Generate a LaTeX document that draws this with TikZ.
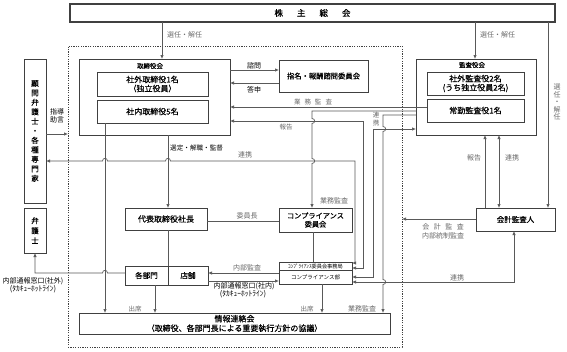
\documentclass[tikz,border=0pt]{standalone}
\usepackage{fontspec}
\setmainfont{Noto Sans CJK JP}
\newfontfamily\bxf{Noto Sans CJK JP}[FakeBold=0.5]
\usetikzlibrary{arrows.meta}
\definecolor{boxc}{gray}{0.25}
\definecolor{linec}{gray}{0.35}
\definecolor{labc}{gray}{0.42}
\newcommand{\fs}[2]{\fontsize{#1}{#2}\selectfont}
\begin{document}
\begin{tikzpicture}[x=1pt,y=-1pt,
  box/.style={draw=boxc,line width=0.8pt,inner sep=0pt,outer sep=0pt,align=center,font=\bxf\fs{8}{9}},
  conn/.style={draw=linec,line width=0.7pt},
  arr/.style={conn,-{Latex[length=4pt,width=3.4pt]}},
  arrb/.style={conn,{Latex[length=4pt,width=3.4pt]}-{Latex[length=4pt,width=3.4pt]}},
  lab/.style={text=labc,inner sep=0pt,align=center,font=\fs{7}{8}},
  blab/.style={text=black,inner sep=0pt,align=center,font=\fs{7}{8}}]
\useasboundingbox (0,0) rectangle (567,351);
\fill[white] (0,0) rectangle (567,351);
% group (dotted)
\node[draw=boxc,line width=0.6pt,dash pattern=on 1.2pt off 1.2pt,inner sep=0pt,outer sep=0pt,minimum width=334pt,minimum height=301pt] (grp) at (235,196.5) {};
% lanes
\coordinate (c105) at (105,0); \coordinate (c155) at (155,0);
\coordinate (c162) at (162,0); \coordinate (c168) at (168,0);
\coordinate (c312) at (312,0); \coordinate (c313) at (313,0);
\coordinate (c322) at (322,0); \coordinate (c355) at (355,0);
\coordinate (c363) at (363,0); \coordinate (c373) at (373,0);
\coordinate (c383) at (383,0); \coordinate (c475) at (475,0);
\coordinate (c485) at (485,0); \coordinate (c499) at (499,0);
\coordinate (c514) at (514,0); \coordinate (c548) at (548,0);
\coordinate (c35) at (35,0);
\foreach \yy in {70,83,107,111,115,121,129,134,161,219,221,263,268,273,277,281,282}{\coordinate (r\yy) at (0,\yy);}
% boxes
\node[box,line width=1.2pt,minimum width=485pt,minimum height=18pt,font=\bxf\fs{8.5}{9}] (kabu) at (312.5,13) {株\hspace{14pt}主\hspace{14pt}総\hspace{14pt}会};
\node[box,minimum width=151pt,minimum height=76pt] (torishimari) at (154.5,97) {};
\node[inner sep=0pt,font=\bxf\fs{6.5}{7}] (torit) at (150,66) {取締役会};
\node[box,minimum width=111pt,minimum height=24pt] (shagai) at (152.5,84) {社外取締役1名\\（独立役員）};
\node[box,minimum width=111pt,minimum height=23pt] (shanai) at (152.5,111.5) {社内取締役5名};
\node[box,minimum width=89pt,minimum height=32pt,font=\bxf\fs{7.3}{9}] (shimei) at (323.5,76) {指名・報酬諮問委員会};
\node[box,minimum width=120pt,minimum height=76pt] (kansa) at (476,97) {};
\node[inner sep=0pt,font=\bxf\fs{6.5}{7}] (kansat) at (472,65) {監査役会};
\node[box,minimum width=97pt,minimum height=23pt] (shagaikansa) at (475.5,83.5) {社外監査役2名\\(うち独立役員2名)};
\node[box,minimum width=97pt,minimum height=23pt] (jokin) at (475.5,110.5) {常勤監査役1名};
\node[box,minimum width=22pt,minimum height=144pt,font=\bxf\fs{7.5}{9.5}] (komon) at (35,131) {顧\\問\\弁\\護\\士\\・\\各\\種\\専\\門\\家};
\node[box,minimum width=22pt,minimum height=45pt,font=\bxf\fs{7.5}{10}] (bengoshi) at (35,230.5) {弁\\護\\士};
\node[box,minimum width=82pt,minimum height=22pt] (daihyo) at (166,219) {代表取締役社長};
\node[box,minimum width=73pt,minimum height=24pt,font=\bxf\fs{7.2}{8.5}] (comp) at (315.5,220) {コンプライアンス\\委員会};
\node[box,minimum width=43pt,minimum height=19pt,font=\bxf\fs{7.5}{9}] (bumon) at (146.5,275.5) {各部門};
\node[box,minimum width=40pt,minimum height=19pt,font=\bxf\fs{7.5}{9}] (tenpo) at (188,275.5) {店舗};
\node[box,minimum width=73pt,minimum height=8pt,font=\fs{5.2}{6}] (jimu) at (315.5,266) {ｺﾝﾌﾟﾗｲｱﾝｽ委員会事務局};
\node[box,minimum width=73pt,minimum height=14pt,font=\fs{5.5}{6}] (compbu) at (315.5,277) {コンプライアンス部};
\node[box,minimum width=311pt,minimum height=21pt,font=\bxf\fs{8}{9.5}] (joho) at (234.5,323.5) {情報連絡会\\（取締役、各部門長による重要執行方針の協議）};
\node[box,minimum width=79pt,minimum height=23pt,font=\bxf\fs{7.5}{9}] (kaikei) at (515.5,219.5) {会計監査人};
% connectors
\draw[arr] (kabu.south -| c162) -- (torishimari.north -| c162);
\draw[arr] (kabu.south -| c475) -- (kansa.north -| c475);
\draw[arr] (kabu.south -| c548) -- (kaikei.north -| c548);
\draw[arr] (torishimari.east |- r70) -- (shimei.west |- r70);
\draw[arr] (shimei.west |- r83) -- (torishimari.east |- r83);
\draw[arr] (jokin.west |- r107) -- (torishimari.east |- r107);
\draw[arr] (kansa.west |- r111) -- (c312 |- r111) -- (312,118.5) .. controls (315.5,118.5) and (315.5,123.5) .. (312,123.5) -- (312,158.5) .. controls (315.5,158.5) and (315.5,163.5) .. (312,163.5) -- (comp.north -| c312);
\draw[arrb] (jimu.east |- r268) -- (c363 |- r268) -- (c363 |- r121) -- (torishimari.east |- r121);
\draw[arrb] (jimu.east |- r263) -- (c355 |- r263) -- (c355 |- r161) -- (170.5,161) .. controls (170.5,157.5) and (165.5,157.5) .. (165.5,161) -- (107.5,161) .. controls (107.5,157.5) and (102.5,157.5) .. (102.5,161) -- (komon.east |- r161);
\draw[arrb] (compbu.east |- r277) -- (c373 |- r277) -- (c373 |- r129) -- (kansa.west |- r129);
\draw[arr] (kansa.west |- r115) -- (c383 |- r115) -- (383,126.5) .. controls (386.5,126.5) and (386.5,131.5) .. (383,131.5) -- (383,279.5) .. controls (386.5,279.5) and (386.5,284.5) .. (383,284.5) -- (joho.north -| c383);
\draw[arrb] (compbu.east |- r282) -- (c514 |- r282) -- (kaikei.south -| c514);
\draw[arr] (kaikei.west |- r219) -- (grp.east |- r219);
\draw[arr] (kaikei.north -| c485) -- (kansa.south -| c485);
\draw[arrb] (kansa.south -| c499) -- (kaikei.north -| c499);
\draw[arr] (torishimari.south -| c168) -- (daihyo.north -| c168);
\draw[arr] (shanai.south -| c105) -- (joho.north -| c105);
\draw[conn] (daihyo.east |- r221) -- (comp.west |- r221);
\draw[conn] (comp.south -| c313) -- (jimu.north -| c313);
\draw[conn] (daihyo.south -| c168) -- (tenpo.north west);
\draw[arr] (compbu.west |- r273) -- (tenpo.east |- r273);
\draw[arr] (tenpo.east |- r281) -- (compbu.west |- r281);
\draw[arr] (bumon.west |- r273) -- (107.5,273) .. controls (107.5,269.5) and (102.5,269.5) .. (102.5,273) -- (c35 |- r273) -- (bengoshi.south);
\draw[arr] (bumon.south -| c155) -- (joho.north -| c155);
\draw[arr] (compbu.south -| c322) -- (joho.north -| c322);
\draw[arr] (komon.east |- r134) -- (grp.west |- r134);
% labels
\node[lab,anchor=west] (l1) at (167,35) {選任・解任};
\node[lab,anchor=west] (l2) at (480,35) {選任・解任};
\node[lab,font=\fs{7}{7.5}] (l3) at (557,102) {選\\任\\・\\解\\任};
\node[blab] (l4) at (254,65.5) {諮問};
\node[blab] (l5) at (254,89.5) {答申};
\node[lab,font=\fs{6.5}{7}] (l6) at (313,102) {業\hspace{4pt}務\hspace{4pt}監\hspace{4pt}査};
\node[lab,font=\fs{6.5}{7}] (l7) at (286,127) {報告};
\node[blab,anchor=west,font=\fs{6.6}{7}] (l8) at (170,148) {選定・解職・監督};
\node[lab] (l9) at (245,155) {連携};
\node[lab] (l10) at (334,201) {業務監査};
\node[lab] (l11) at (247,216) {委員長};
\node[lab,font=\fs{6.5}{7.5}] (l12) at (376,119) {連\\携};
\node[lab] (l13) at (474,158) {報告};
\node[lab] (l14) at (512,158) {連携};
\node[lab] (l15) at (443,227) {会\hspace{4.5pt}計\hspace{4.5pt}監\hspace{4.5pt}査};
\node[lab] (l16) at (443,236) {内部統制監査};
\node[lab] (l17) at (457,278) {連携};
\node[lab] (l18) at (362,309) {業務監査};
\node[lab,font=\fs{6.5}{7}] (l19) at (307,309) {出席};
\node[lab,font=\fs{6.5}{7}] (l20) at (135,309) {出席};
\node[lab] (l21) at (247,268) {内部監査};
\node[blab] (l22) at (244,286) {内部通報窓口(社内)};
\node[blab,font=\fs{7.5}{8}] (l23) at (243,294) {(ﾀｶｷｭｰﾎｯﾄﾗｲﾝ)};
\node[blab] (l24) at (33,281) {内部通報窓口(社外)};
\node[blab,font=\fs{7.5}{8}] (l25) at (33,289) {(ﾀｶｷｭｰﾎｯﾄﾗｲﾝ)};
\node[blab,font=\fs{7}{8}] (l26) at (57,116) {指導\\助言};
\end{tikzpicture}
\end{document}
